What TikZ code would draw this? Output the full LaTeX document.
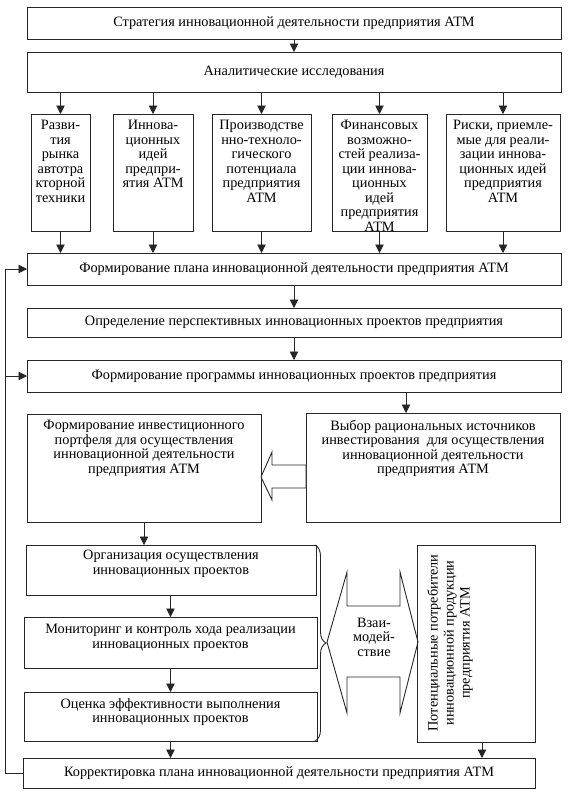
\documentclass[tikz,border=0pt]{standalone}
\usepackage{fontspec}
\setmainfont{Liberation Serif}
\usetikzlibrary{arrows.meta,decorations.pathreplacing,calc}
\begin{document}
\begin{tikzpicture}[x=1pt,y=-1pt,
  bx/.style={draw=black!85, line width=0.9pt, rectangle, inner sep=0pt, outer sep=0pt, anchor=north west,
             font=\fontsize{14.3pt}{14.5pt}\selectfont, align=center},
  tx/.style={font=\fontsize{14.3pt}{14.5pt}\selectfont, align=center, inner sep=0pt, text=black},
  arr/.style={draw=black!85, line width=0.9pt, -{Triangle[length=8.5pt,width=8.5pt]}},
  ln/.style={draw=black!85, line width=0.9pt}]
\useasboundingbox (0,0) rectangle (571,793);

% main column
\node[bx, minimum width=534, minimum height=32] (strat) at (27,7) {Стратегия инновационной деятельности предприятия АТМ};
\node[bx, minimum width=534, minimum height=40] (anal) at (27,52) {Аналитические исследования};

% five boxes
\node[bx, minimum width=59,  minimum height=117] (b1) at (31,114) {};
\node[bx, minimum width=80,  minimum height=117] (b2) at (113,114) {};
\node[bx, minimum width=99,  minimum height=117] (b3) at (212,114) {};
\node[bx, minimum width=95,  minimum height=117] (b4) at (332,114) {};
\node[bx, minimum width=114, minimum height=117] (b5) at (446,114) {};
\node[tx, anchor=north] (b1t) at ($(b1.north)+(0,6)$) {Разви-\\тия\\рынка\\автотра\\кторной\\техники};
\node[tx, anchor=north] (b2t) at ($(b2.north)+(0,6)$) {Иннова-\\ционных\\идей\\предпри-\\ятия АТМ};
\node[tx, anchor=north] (b3t) at ($(b3.north)+(0,6)$) {Производстве\\нно-техноло-\\гического\\потенциала\\предприятия\\АТМ};
\node[tx, anchor=north] (b4t) at ($(b4.north)+(0,6)$) {Финансовых\\возможно-\\стей реализа-\\ции иннова-\\ционных\\идей\\предприятия\\АТМ};
\node[tx, anchor=north] (b5t) at ($(b5.north)+(0,6)$) {Риски, приемле-\\мые для реали-\\зации иннова-\\ционных идей\\предприятия\\АТМ};

\node[bx, minimum width=534, minimum height=32] (plan) at (27,253) {Формирование плана инновационной деятельности предприятия АТМ};
\node[bx, minimum width=534, minimum height=29] (opr) at (27,308) {Определение перспективных инновационных проектов предприятия};
\node[bx, minimum width=534, minimum height=32] (prog) at (27,360) {Формирование программы инновационных проектов предприятия};

% investment boxes
\node[bx, minimum width=234, minimum height=108] (inv) at (27,414) {};
\node[tx, anchor=north] (invt) at ($(inv.north)+(0,6)$) {Формирование инвестиционного\\портфеля для осуществления\\инновационной деятельности\\предприятия АТМ};
\node[bx, minimum width=254, minimum height=109] (vyb) at (306,413) {};
\node[tx, anchor=north] (vybt) at ($(vyb.north)+(0,7)$) {Выбор рациональных источников\\инвестирования\ \ для осуществления\\инновационной деятельности\\предприятия АТМ};

% lower boxes
\node[bx, minimum width=290, minimum height=50] (org) at (26,545) {};
\node[tx, anchor=north] (orgt) at ($(org.north)+(0,5)$) {Организация осуществления\\инновационных проектов};
\node[bx, minimum width=293, minimum height=51] (mon) at (24,617) {};
\node[tx, anchor=north] (mont) at ($(mon.north)+(0,7)$) {Мониторинг и контроль хода реализации\\инновационных проектов};
\node[bx, minimum width=293, minimum height=49] (ots) at (24,692) {};
\node[tx, anchor=north] (otst) at ($(ots.north)+(0,6)$) {Оценка эффективности выполнения\\инновационных проектов};

\node[bx, minimum width=118, minimum height=197] (cons) at (417,545) {};
\node[tx, rotate=90, font=\fontsize{14.3pt}{16pt}\selectfont] (const) at (450,643) {Потенциальные потребители\\инновационной продукции\\предприятия АТМ};

\node[bx, minimum width=512, minimum height=30] (korr) at (23,758) {Корректировка плана инновационной деятельности предприятия АТМ};

% helper coordinates
\coordinate (c406) at (406,0);
\coordinate (c482) at (482,0);
\coordinate (cfb) at (5,0);

% arrows
\draw[arr] (strat.south) -- (anal.north);
\foreach \b in {b1,b2,b3,b4,b5}{
  \draw[arr] (\b.north |- anal.south) -- (\b.north);
  \draw[arr] (\b.south) -- (\b.south |- plan.north);
}
\draw[arr] (plan.south) -- (opr.north);
\draw[arr] (opr.south) -- (prog.north);
\draw[arr] (prog.south -| c406) -- (vyb.north -| c406);
\draw[arr] (inv.south) -- (inv.south |- org.north);
\draw[arr] (org.south -| mon.north) -- (mon.north);
\draw[arr] (mon.south) -- (ots.north);
\draw[arr] (ots.south) -- (ots.south |- korr.north);
\draw[arr] (cons.south -| c482) -- (korr.north -| c482);

% feedback
\draw[ln] (korr.west) -- (korr.west -| cfb) -- (plan.west -| cfb);
\draw[arr] (plan.west -| cfb) -- (plan.west);
\draw[arr] (prog.west -| cfb) -- (prog.west);

% hollow arrow from vyb to inv
\draw[ln, fill=white, line join=miter] ($(inv.east)+(0,9)$) -- ++(11,-25) -- ++(0,13) -- ++(34,0) -- ++(0,23) -- ++(-34,0) -- ++(0,12) -- cycle;

% brace
\draw[ln, decorate, decoration={brace, amplitude=11pt}] (315,545) -- (315,741);

% double interaction arrow
\draw[ln, line join=miter] (327,642) -- (347,572) -- (347,606) -- (400,606) -- (400,572) -- (418,642)
  -- (400,713) -- (400,677) -- (347,677) -- (347,713) -- cycle;
\node[tx] (vz) at (374,637) {Взаи-\\модей-\\ствие};
\end{tikzpicture}
\end{document}
